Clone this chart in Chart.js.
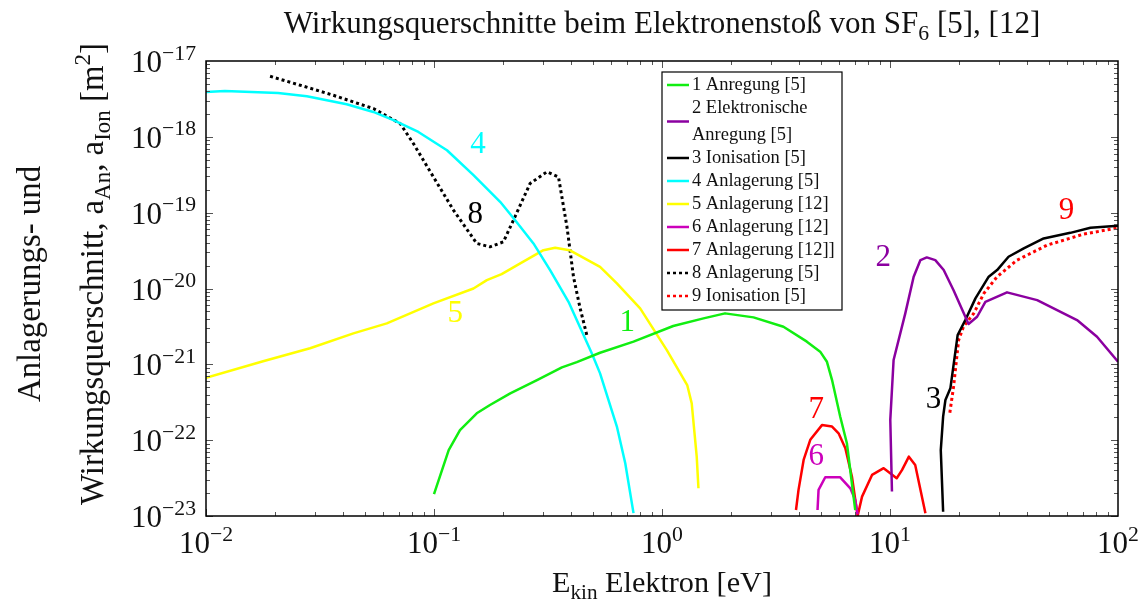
<!DOCTYPE html>
<html lang="de">
  <head>
    <meta charset="UTF-8" />
    <script src="https://cdn.jsdelivr.net/npm/chart.js@4.4.1/dist/chart.umd.min.js"></script>
    <title>Wirkungsquerschnitte SF6</title>
    <style>
      html, body { margin: 0; padding: 0; background: #fff; }
      canvas { display: block; }
    </style>
  </head>
  <body>
    <canvas id="myChart" width="1146" height="603"></canvas>
    <script>
      // energies [eV] and cross sections [m^2]
      const e1 = [0.1, 0.116, 0.13, 0.154, 0.176, 0.216, 0.283, 0.364, 0.423, 0.535, 0.75, 1.12, 1.52, 1.89, 2.52, 3.41, 4.32, 4.94, 5.29, 5.57, 6.05, 6.47, 7.04];
      const s1 = [1.94e-23, 7.4e-23, 1.36e-22, 2.26e-22, 2.91e-22, 4.15e-22, 6.2e-22, 9.1e-22, 1.07e-21, 1.42e-21, 1.99e-21, 3.2e-21, 4.04e-21, 4.7e-21, 4.16e-21, 3.13e-21, 1.99e-21, 1.47e-21, 1.08e-21, 6.2e-22, 2.04e-22, 9.1e-23, 1.2e-23];

      const e2 = [10.2, 10.03, 10.37, 11.67, 12.7, 13.6, 14.5, 15.8, 17.2, 19.0, 21.4, 22.1, 24.1, 26.2, 32.6, 44.2, 66.1, 80.9, 100];
      const s2 = [2.1e-23, 1.85e-22, 1.14e-21, 4.7e-21, 1.43e-20, 2.37e-20, 2.57e-20, 2.37e-20, 1.75e-20, 9.5e-21, 4.24e-21, 3.4e-21, 4.24e-21, 6.68e-21, 8.89e-21, 7.03e-21, 3.84e-21, 2.31e-21, 1.08e-21];

      const e3 = [17.1, 16.7, 17.1, 17.5, 18.4, 19.8, 21.4, 23.7, 27.1, 29.5, 33.1, 38.6, 47.2, 61.8, 75.7, 100];
      const s3 = [1.14e-23, 7.4e-23, 2.04e-22, 3.39e-22, 4.83e-22, 2.43e-21, 3.84e-21, 7.41e-21, 1.43e-20, 1.75e-20, 2.62e-20, 3.38e-20, 4.57e-20, 5.42e-20, 6.31e-20, 6.7e-20];

      const e4 = [0.01, 0.0121, 0.0207, 0.0277, 0.0414, 0.0542, 0.0664, 0.0854, 0.114, 0.149, 0.195, 0.227, 0.273, 0.323, 0.389, 0.492, 0.535, 0.634, 0.69, 0.75];
      const s4 = [3.9e-18, 4.03e-18, 3.79e-18, 3.43e-18, 2.69e-18, 2.13e-18, 1.66e-18, 1.16e-18, 6.66e-19, 3.12e-19, 1.39e-19, 7.96e-20, 3.93e-20, 1.75e-20, 6.68e-21, 1.4e-21, 7.6e-22, 1.51e-22, 4.96e-23, 1.09e-23];

      const e5 = [0.01, 0.0178, 0.0286, 0.0443, 0.0621, 0.0994, 0.149, 0.1705, 0.198, 0.239, 0.302, 0.34, 0.393, 0.535, 0.634, 0.802, 1.05, 1.29, 1.35, 1.42, 1.445];
      const s5 = [6.66e-22, 1.1e-21, 1.63e-21, 2.56e-21, 3.47e-21, 6.37e-21, 1.0e-20, 1.29e-20, 1.55e-20, 2.14e-20, 3.2e-20, 3.44e-20, 3.2e-20, 1.93e-20, 1.17e-20, 5.47e-21, 1.54e-21, 5.33e-22, 3.06e-22, 6.06e-23, 2.32e-23];

      const e6 = [4.81, 4.86, 5.2, 6.05, 6.7, 7.04, 7.21];
      const s6 = [1.2e-23, 2.21e-23, 3.24e-23, 3.24e-23, 2.32e-23, 1.63e-23, 1.05e-23];

      const e7 = [3.87, 3.97, 4.18, 4.47, 5.03, 5.57, 5.95, 6.37, 6.81, 7.21, 7.54, 8.34, 9.38, 10.7, 11.3, 12.1, 12.9, 14.3];
      const s7 = [1.2e-23, 2.21e-23, 5.48e-23, 1.01e-22, 1.58e-22, 1.51e-22, 1.23e-22, 7.82e-23, 3.3e-23, 1.0e-23, 1.8e-23, 3.48e-23, 4.27e-23, 3.15e-23, 4.05e-23, 6.06e-23, 4.71e-23, 1.09e-23];

      const e8 = [0.0191, 0.0259, 0.0362, 0.0542, 0.071, 0.0812, 0.0994, 0.1217, 0.154, 0.176, 0.2016, 0.223, 0.264, 0.3126, 0.3515, 0.383, 0.409, 0.4375, 0.468];
      const s8 = [6.29e-18, 4.79e-18, 3.53e-18, 2.36e-18, 1.5e-18, 8.16e-19, 2.96e-19, 1.08e-19, 3.93e-20, 3.54e-20, 4.12e-20, 7.96e-20, 2.43e-19, 3.45e-19, 2.96e-19, 6.5e-20, 1.43e-20, 5.47e-21, 2.43e-21];

      const e9 = [18.3, 19.0, 20.0, 21.0, 23.3, 25.8, 29.5, 36.1, 48.9, 70.7, 100];
      const s9 = [2.3e-22, 5.07e-22, 2.09e-21, 3.13e-21, 4.7e-21, 8.61e-21, 1.43e-20, 2.37e-20, 3.73e-20, 5.21e-20, 6.31e-20];

      const seriesNames = ["1 Anregung [5]", "2 Elektronische\nAnregung [5]", "3 Ionisation [5]", "4 Anlagerung [5]", "5 Anlagerung [12]", "6 Anlagerung [12]", "7 Anlagerung [12]]", "8 Anlagerung [5]", "9 Ionisation [5]"];
      const seriesColors = ["#11ee11", "#8b00a0", "#000000", "#00ffff", "#ffff00", "#cc00bb", "#ff0000", "#000000", "#ff0000"];
      const dotted = [false, false, false, false, false, false, false, true, true];

      // curve numbers written into the plot
      const tagText = ["4", "8", "5", "1", "7", "6", "2", "3", "9"];
      const tagE = [0.156, 0.1515, 0.1238, 0.704, 4.75, 4.75, 9.35, 15.5, 59.4];
      const tagS = [7.75e-19, 9.27e-20, 4.6e-21, 3.5e-21, 2.5e-22, 6.0e-23, 2.5e-20, 3.4e-22, 1.05e-19];
      const tagSeries = [3, 7, 4, 0, 6, 5, 1, 2, 8];

      const xDecades = [-2, -1, 0, 1, 2];
      const yDecades = [-23, -22, -21, -20, -19, -18, -17];

      const FONT = '"Liberation Serif", "DejaVu Serif", serif';
      const allE = [e1, e2, e3, e4, e5, e6, e7, e8, e9];
      const allS = [s1, s2, s3, s4, s5, s6, s7, s8, s9];

      const datasets = allE.map((ex, i) => ({
        label: seriesNames[i],
        data: ex.map((v, k) => ({ x: v, y: allS[i][k] })),
        borderColor: seriesColors[i],
        backgroundColor: seriesColors[i],
        borderWidth: dotted[i] ? 3 : 2.5,
        borderDash: dotted[i] ? [3, 3] : [],
        showLine: true,
        pointRadius: 0,
        tension: 0,
        borderJoinStyle: "round",
      }));

      // text with sub/superscripts: parts = [[text, mode]], mode 0 normal, 1 sub, -1 sup
      function richWidth(ctx, parts, size) {
        let w = 0;
        parts.forEach(([t, m]) => {
          ctx.font = (m ? size * 0.7 : size) + "px " + FONT;
          w += ctx.measureText(t).width;
        });
        return w;
      }
      function drawRich(ctx, parts, x, y, size, align) {
        const w = richWidth(ctx, parts, size);
        let cx = align === "center" ? x - w / 2 : align === "right" ? x - w : x;
        ctx.textAlign = "left";
        ctx.textBaseline = "alphabetic";
        parts.forEach(([t, m]) => {
          const s = m ? size * 0.7 : size;
          ctx.font = s + "px " + FONT;
          const dy = m === 1 ? size * 0.22 : m === -1 ? -size * 0.4 : 0;
          ctx.fillText(t, cx, y + dy);
          cx += ctx.measureText(t).width;
        });
      }
      function fitSize(ctx, parts, width) {
        return (40 * width) / richWidth(ctx, parts, 40);
      }

      const decorPlugin = {
        id: "decor",
        afterDatasetsDraw(chart) {
          const ctx = chart.ctx;
          const a = chart.chartArea;
          const xs = chart.scales.x;
          const ys = chart.scales.y;
          ctx.save();

          // ticks on all four sides, pointing inward
          ctx.strokeStyle = "#555";
          ctx.lineWidth = 1;
          for (let d = -2; d < 2; d++) {
            for (let m = 1; m <= 9; m++) {
              const px = Math.round(xs.getPixelForValue(m * Math.pow(10, d))) + 0.5;
              const len = m === 1 ? 7 : 4;
              ctx.beginPath();
              ctx.moveTo(px, a.bottom); ctx.lineTo(px, a.bottom - len);
              ctx.moveTo(px, a.top); ctx.lineTo(px, a.top + len);
              ctx.stroke();
            }
          }
          for (let d = -23; d < -17; d++) {
            for (let m = 1; m <= 9; m++) {
              const py = Math.round(ys.getPixelForValue(m * Math.pow(10, d))) + 0.5;
              const len = m === 1 ? 7 : 4;
              ctx.beginPath();
              ctx.moveTo(a.left, py); ctx.lineTo(a.left + len, py);
              ctx.moveTo(a.right, py); ctx.lineTo(a.right - len, py);
              ctx.stroke();
            }
          }
          ctx.strokeStyle = "#000";
          ctx.lineWidth = 1.5;
          ctx.strokeRect(a.left, a.top, a.right - a.left, a.bottom - a.top);

          // tick labels
          ctx.fillStyle = "#111";
          const tickSize = fitSize(ctx, [["10", 0], ["\u221217", -1]], 65);
          yDecades.forEach((d) => {
            const py = ys.getPixelForValue(Math.pow(10, d));
            drawRich(ctx, [["10", 0], ["\u2212" + -d, -1]], a.left - 10, py + 11, tickSize, "right");
          });
          xDecades.forEach((d) => {
            const px = xs.getPixelForValue(Math.pow(10, d));
            const sup = d < 0 ? "\u2212" + -d : String(d);
            drawRich(ctx, [["10", 0], [sup, -1]], px, a.bottom + 37, tickSize, "center");
          });

          // titles
          const title = [["Wirkungsquerschnitte beim Elektronenstoß von SF", 0], ["6", 1], [" [5], [12]", 0]];
          drawRich(ctx, title, (a.left + a.right) / 2, 33, fitSize(ctx, title, 757), "center");
          const xt = [["E", 0], ["kin", 1], [" Elektron [eV]", 0]];
          drawRich(ctx, xt, (a.left + a.right) / 2, 592, fitSize(ctx, xt, 220), "center");
          const y1 = [["Anlagerungs- und", 0]];
          const y2 = [["Wirkungsquerschnitt, a", 0], ["An", 1], [", a", 0], ["Ion", 1], [" [m", 0], ["2", -1], ["]", 0]];
          const ySize = fitSize(ctx, y2, 462);
          ctx.save();
          ctx.translate(40, 284);
          ctx.rotate(-Math.PI / 2);
          drawRich(ctx, y1, 0, 0, ySize, "center");
          ctx.restore();
          ctx.save();
          ctx.translate(103, 274);
          ctx.rotate(-Math.PI / 2);
          drawRich(ctx, y2, 0, 0, ySize, "center");
          ctx.restore();

          // curve numbers
          tagText.forEach((t, i) => {
            ctx.fillStyle = seriesColors[tagSeries[i]];
            ctx.font = tickSize + "px " + FONT;
            ctx.textAlign = "center";
            ctx.textBaseline = "middle";
            ctx.fillText(t, xs.getPixelForValue(tagE[i]), ys.getPixelForValue(tagS[i]));
          });

          // legend box
          const lx = a.left + 456, ly = a.top + 11, lw = 180, lh = 238;
          ctx.fillStyle = "#fff";
          ctx.fillRect(lx, ly, lw, lh);
          ctx.strokeStyle = "#000";
          ctx.lineWidth = 1.2;
          ctx.strokeRect(lx, ly, lw, lh);
          const legSize = fitSize(ctx, [["1 Anregung [5]", 0]], 114);
          let rowY = ly + 13;
          seriesNames.forEach((name, i) => {
            const lines = name.split("\n");
            const midY = rowY + (lines.length - 1) * 13.5;
            ctx.strokeStyle = seriesColors[i];
            ctx.lineWidth = 2.5;
            ctx.setLineDash(dotted[i] ? [3, 3] : []);
            ctx.beginPath();
            ctx.moveTo(lx + 5, midY);
            ctx.lineTo(lx + 27, midY);
            ctx.stroke();
            ctx.setLineDash([]);
            ctx.fillStyle = "#111";
            ctx.font = legSize + "px " + FONT;
            ctx.textAlign = "left";
            ctx.textBaseline = "middle";
            lines.forEach((ln, k) => ctx.fillText(ln, lx + 30, rowY + k * 27));
            rowY += 23 + (lines.length - 1) * 27;
          });
          ctx.restore();
        },
      };

      const ctx = document.getElementById("myChart").getContext("2d");
      const myChart = new Chart(ctx, {
        type: "scatter",
        data: { datasets: datasets },
        options: {
          responsive: false,
          animation: false,
          layout: { padding: { left: 206, top: 61, right: 28, bottom: 87 } },
          plugins: { legend: { display: false }, tooltip: { enabled: false } },
          scales: {
            x: { type: "logarithmic", min: 0.01, max: 100, display: false },
            y: { type: "logarithmic", min: 1e-23, max: 1e-17, display: false },
          },
        },
        plugins: [decorPlugin],
      });
    </script>
  </body>
</html>
